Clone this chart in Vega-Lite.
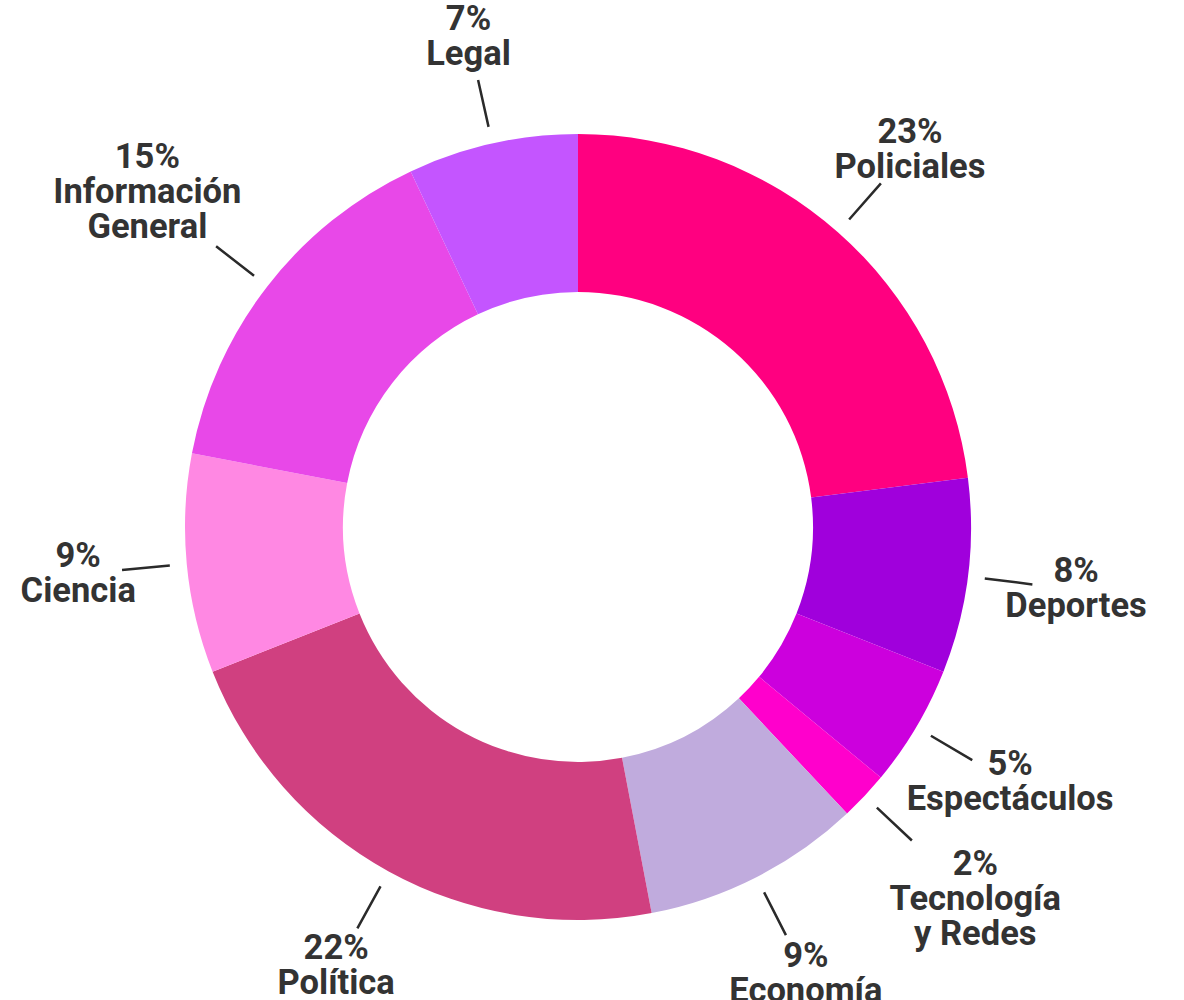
{
  "$schema": "https://vega.github.io/schema/vega-lite/v6.json",
  "width": 1156,
  "height": 946,
  "autosize": "none",
  "padding": {"left": 0, "top": 54, "right": 28, "bottom": 0},
  "background": "white",
  "config": {"view": {"stroke": null}},
  "data": {
    "values": [
      {"idx": 1, "cat": "Policiales", "value": 23, "lines": 2, "label": "23%\nPoliciales"},
      {"idx": 2, "cat": "Deportes", "value": 8, "lines": 2, "label": "8%\nDeportes"},
      {"idx": 3, "cat": "Espectáculos", "value": 5, "lines": 2, "label": "5%\nEspectáculos"},
      {"idx": 4, "cat": "Tecnología y Redes", "value": 2, "lines": 3, "label": "2%\nTecnología\ny Redes"},
      {"idx": 5, "cat": "Economía", "value": 9, "lines": 2, "label": "9%\nEconomía"},
      {"idx": 6, "cat": "Política", "value": 22, "lines": 2, "label": "22%\nPolítica"},
      {"idx": 7, "cat": "Ciencia", "value": 9, "lines": 2, "label": "9%\nCiencia"},
      {"idx": 8, "cat": "Información General", "value": 15, "lines": 3, "label": "15%\nInformación\nGeneral"},
      {"idx": 9, "cat": "Legal", "value": 7, "lines": 2, "label": "7%\nLegal"}
    ]
  },
  "transform": [
    {"stack": "value", "groupby": [], "sort": [{"field": "idx", "order": "ascending"}], "as": ["v0", "v1"]}
  ],
  "layer": [
    {
      "mark": {"type": "arc", "stroke": null},
      "encoding": {
        "theta": {"field": "v0", "type": "quantitative", "scale": {"domain": [0, 100], "range": [0, 6.283185307179586]}},
        "theta2": {"field": "v1"},
        "radius": {"value": 393},
        "radius2": {"value": 235},
        "color": {
          "field": "cat",
          "type": "nominal",
          "legend": null,
          "scale": {
            "domain": ["Policiales", "Deportes", "Espectáculos", "Tecnología y Redes", "Economía", "Política", "Ciencia", "Información General", "Legal"],
            "range": ["#FF0080", "#A000DC", "#CC00DD", "#FF00CC", "#C0ABDD", "#D04080", "#FF88E3", "#E848E8", "#C455FF"]
          }
        }
      }
    },
    {
      "transform": [
        {"fold": ["v0", "v1"], "as": ["edge", "pos"]},
        {"aggregate": [{"op": "mean", "field": "pos", "as": "mid"}], "groupby": ["cat", "label", "idx", "lines"]}
      ],
      "layer": [
        {
          "mark": {"type": "arc", "filled": false, "stroke": "#2a2a2a", "strokeWidth": 2.5, "strokeCap": "butt"},
          "encoding": {
            "theta": {"field": "mid", "type": "quantitative", "scale": {"domain": [0, 100], "range": [0, 6.283185307179586]}},
            "theta2": {"field": "mid"},
            "radius": {"value": 458},
            "radius2": {"value": 410}
          }
        },
        {
          "transform": [{"filter": "datum.lines == 2"}],
          "mark": {"type": "text", "font": "Roboto", "fontWeight": "bold", "fontSize": 34.5, "lineHeight": 35, "lineBreak": "\n", "align": "center", "baseline": "middle", "dy": -17.5, "color": "#333333"},
          "encoding": {
            "theta": {"field": "mid", "type": "quantitative", "scale": {"domain": [0, 100], "range": [0, 6.283185307179586]}},
            "radius": {"value": 502},
            "text": {"field": "label"}
          }
        },
        {
          "transform": [{"filter": "datum.lines == 3"}],
          "mark": {"type": "text", "font": "Roboto", "fontWeight": "bold", "fontSize": 34.5, "lineHeight": 35, "lineBreak": "\n", "align": "center", "baseline": "middle", "dy": -35, "color": "#333333"},
          "encoding": {
            "theta": {"field": "mid", "type": "quantitative", "scale": {"domain": [0, 100], "range": [0, 6.283185307179586]}},
            "radius": {"value": 545},
            "text": {"field": "label"}
          }
        }
      ]
    }
  ]
}
